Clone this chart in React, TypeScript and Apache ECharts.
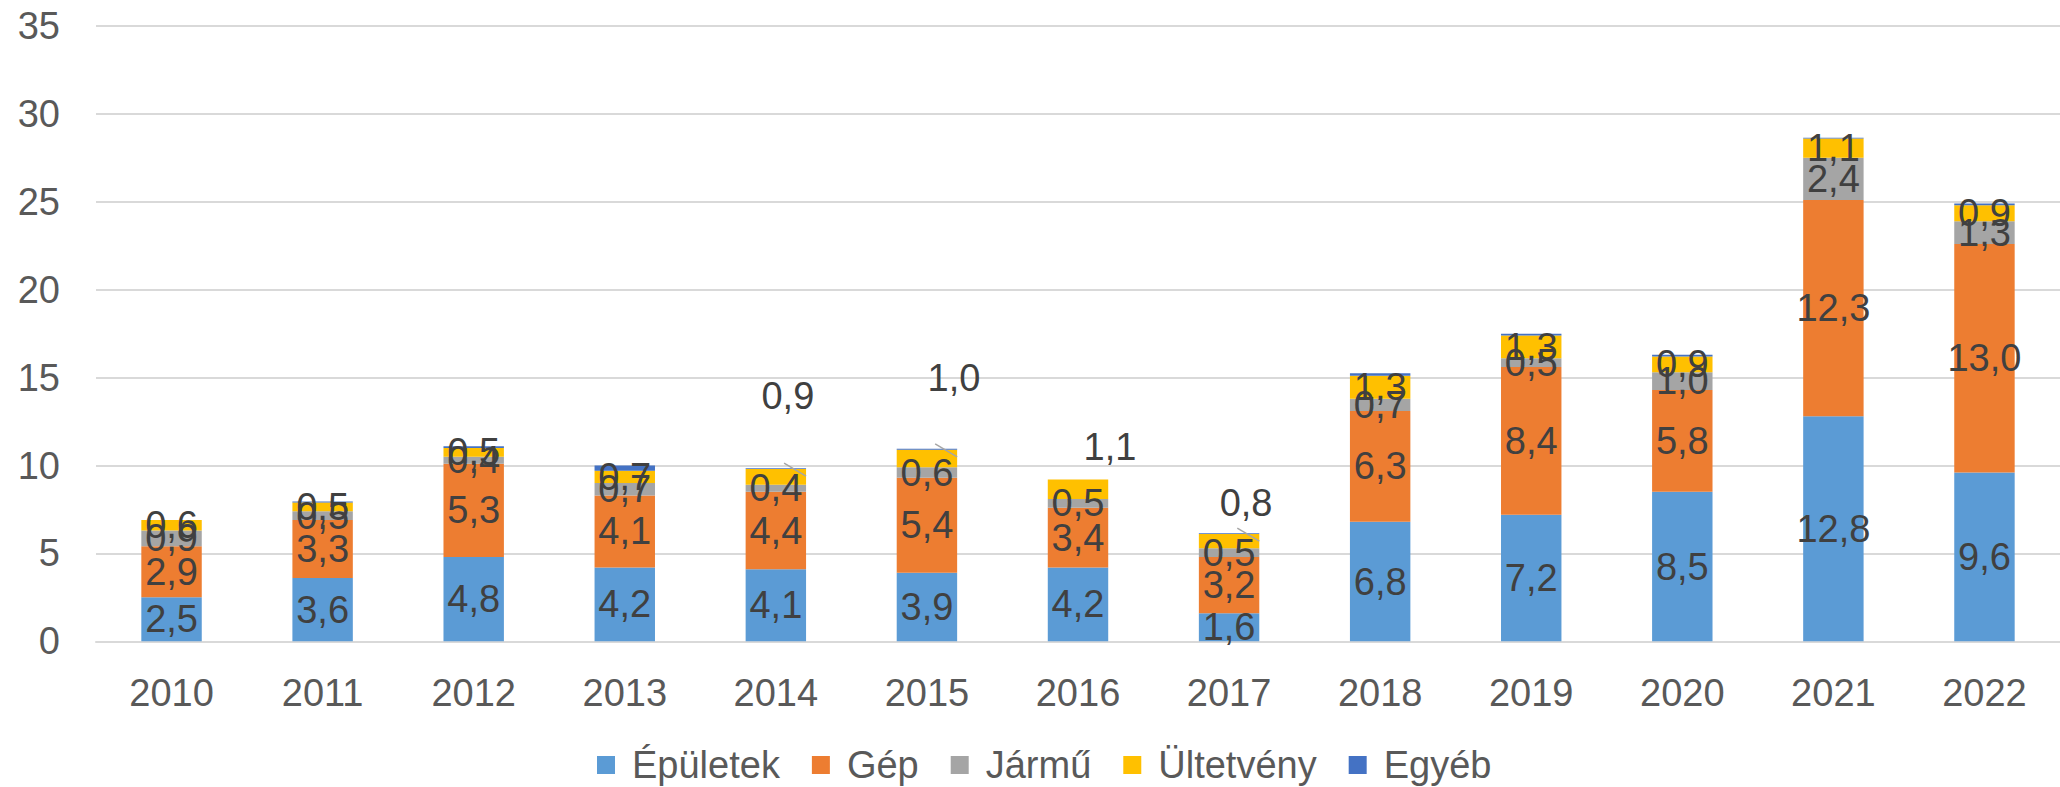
import React, { useEffect, useRef } from "react";
import * as echarts from "echarts";

const years = ["2010", "2011", "2012", "2013", "2014", "2015", "2016", "2017", "2018", "2019", "2020", "2021", "2022"];
const epuletek = [2.5, 3.6, 4.8, 4.2, 4.1, 3.9, 4.2, 1.6, 6.8, 7.2, 8.5, 12.8, 9.6];
const gep = [2.9, 3.3, 5.3, 4.1, 4.4, 5.4, 3.4, 3.2, 6.3, 8.4, 5.8, 12.3, 13.0];
const jarmu = [0.9, 0.5, 0.4, 0.7, 0.4, 0.6, 0.5, 0.5, 0.7, 0.5, 1.0, 2.4, 1.3];
const ultetveny = [0.6, 0.5, 0.5, 0.7, 0.9, 1.0, 1.1, 0.8, 1.3, 1.3, 0.9, 1.1, 0.9];
const egyeb = [0.0, 0.05, 0.1, 0.3, 0.05, 0.05, 0.0, 0.05, 0.15, 0.1, 0.1, 0.05, 0.1];

// label displacement (layout only) for Ültetvény labels moved above the bars
const movedLabels: Record<number, [number, number]> = {
  4: [12, -81],
  5: [27, -80],
  6: [32, -42],
  7: [17, -38],
};
// which moved labels have a visible leader line
const leaderIdx = [4, 5, 7];

const FONT = "'Liberation Sans', Arial, sans-serif";
const FS = 38;
const fmt = (p: any) => Number(p.value).toFixed(1).replace(".", ",");

export default function App() {
  const ref = useRef<HTMLDivElement>(null);
  useEffect(() => {
    if (!ref.current) return;
    const chart = echarts.init(ref.current, null, { renderer: "svg" });
    const labelStyle = {
      show: true,
      position: "inside",
      formatter: fmt,
      color: "#404040",
      fontFamily: FONT,
      fontSize: FS,
    };
    const mk = (name: string, data: number[], color: string, extra: any = {}) => ({
      name,
      type: "bar",
      stack: "total",
      barWidth: "40%",
      data,
      itemStyle: { color },
      label: labelStyle,
      ...extra,
    });
    chart.setOption({
      animation: false,
      textStyle: { fontFamily: FONT },
      grid: { left: 96, top: 26, width: 1985, height: 615.3 },
      legend: {
        left: 592,
        top: 741,
        icon: "rect",
        itemWidth: 18,
        itemHeight: 18,
        itemGap: 32,
        textStyle: { fontFamily: FONT, fontSize: FS, color: "#595959", padding: [0, 0, 0, 12] },
        data: ["Épületek", "Gép", "Jármű", "Ültetvény", "Egyéb"],
      },
      xAxis: {
        type: "category",
        data: years,
        axisLine: { lineStyle: { color: "#d9d9d9", width: 2 } },
        axisTick: { show: false },
        axisLabel: { color: "#595959", fontFamily: FONT, fontSize: FS, margin: 33 },
      },
      yAxis: {
        type: "value",
        min: 0,
        max: 35,
        interval: 5,
        axisLine: { show: false },
        axisTick: { show: false },
        splitLine: { lineStyle: { color: "#d9d9d9", width: 2 } },
        axisLabel: { color: "#595959", fontFamily: FONT, fontSize: FS, margin: 36 },
      },
      series: [
        mk("Épületek", epuletek, "#5B9BD5"),
        mk("Gép", gep, "#ED7D31"),
        mk("Jármű", jarmu, "#A5A5A5"),
        mk("Ültetvény", ultetveny, "#FFC000", {
          labelLayout: (params: any) => {
            const o = movedLabels[params.dataIndex];
            return o ? { dx: o[0], dy: o[1] } : {};
          },
        }),
        mk("Egyéb", egyeb, "#4472C4", { label: { show: false } }),
      ],
    });

    // leader lines: computed from the chart's own scales
    const p0 = chart.convertToPixel({ gridIndex: 0 }, [0, 0]) as number[];
    const p1 = chart.convertToPixel({ gridIndex: 0 }, [1, 0]) as number[];
    const halfBar = (p1[0] - p0[0]) * 0.2;
    const lines = leaderIdx.map((i) => {
      const total = epuletek[i] + gep[i] + jarmu[i] + ultetveny[i] + egyeb[i];
      const pt = chart.convertToPixel({ gridIndex: 0 }, [i, total]) as number[];
      const right = pt[0] + halfBar;
      return {
        type: "line",
        silent: true,
        shape: { x1: right - 22, y1: pt[1] - 5, x2: right, y2: pt[1] + 8 },
        style: { stroke: "#a6a6a6", lineWidth: 1.5 },
        z: 10,
      };
    });
    chart.setOption({ graphic: lines });
    return () => chart.dispose();
  }, []);
  return (
    <div
      ref={ref}
      style={{ position: "fixed", left: 0, top: 0, width: 2060, height: 787, background: "#fff" }}
    />
  );
}
